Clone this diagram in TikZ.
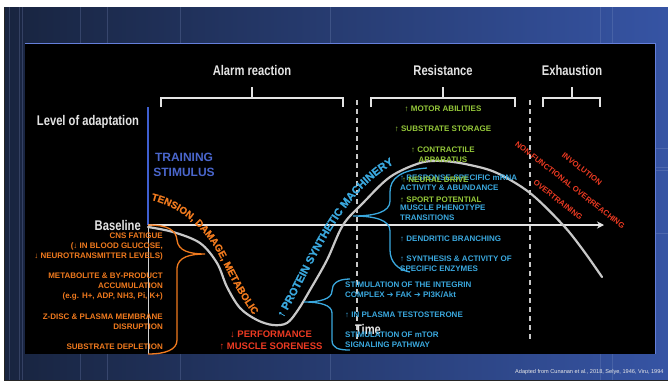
\documentclass[tikz,border=0pt]{standalone}
\usepackage{fontspec}
\setmainfont{Liberation Sans}
\newfontfamily\narrowfont[FakeStretch=0.8]{Liberation Sans}
\newfontfamily\heavyfont[FakeBold=0.8]{Liberation Sans Bold}
\newfontfamily\symfont{DejaVu Sans}
\usetikzlibrary{arrows.meta,decorations.text}

\definecolor{slideL}{HTML}{18243F}
\definecolor{slideR}{HTML}{3654A4}
\definecolor{axisblue}{HTML}{3F5FD0}
\definecolor{stimblue}{HTML}{4A66CC}
\definecolor{orangetxt}{HTML}{F07A1E}
\definecolor{cyantxt}{HTML}{3AA8DE}
\definecolor{greentxt}{HTML}{95C83A}
\definecolor{redtxt}{HTML}{EC3A22}
\definecolor{curvegray}{HTML}{C8C8C8}
\definecolor{labelwhite}{HTML}{E4E4E4}

\newcommand{\smallbold}{\bfseries\fontsize{8}{10}\selectfont}
\newcommand{\tensionfont}{\heavyfont\fontsize{10}{12}\selectfont}
\newcommand{\proteinfont}{\heavyfont\fontsize{11}{13}\selectfont}
\newcommand{\heavyarrow}{{\symfont ➔}}

\tikzset{
  phase/.style={text=labelwhite, font=\narrowfont\bfseries\fontsize{14}{16}\selectfont, inner sep=0pt},
  bracketline/.style={draw=labelwhite, line width=1.2pt},
  dashline/.style={draw=curvegray, line width=1.4pt, dash pattern=on 5pt off 4pt},
  orangebox/.style={text=orangetxt, font=\smallbold, align=right, inner sep=0pt, anchor=north east},
  cyanbox/.style={text=cyantxt, font=\smallbold, align=left, inner sep=0pt, anchor=north west},
  greenbox/.style={text=greentxt, font=\smallbold, inner sep=0pt},
  redtilt/.style={text=redtxt, font=\bfseries\fontsize{7.8}{9}\selectfont, inner sep=0pt, rotate=-38},
}

\begin{document}
\begin{tikzpicture}[x=1pt,y=-1pt]
  \useasboundingbox (0,0) rectangle (668,381);
  % slide backdrop
  \fill[white] (0,0) rectangle (668,381);
  \shade[left color=slideL, right color=slideR] (4,7) rectangle (668,380);
  \foreach \xx in {9,19,22,80,107,180,330,600,612} {
    \draw[slideR!60!white, opacity=0.25, line width=0.6pt] (\xx,7) -- (\xx,380);
  }
  \foreach \yy in {148,167,170,233} {
    \draw[slideR!60!white, opacity=0.3, line width=0.6pt] (655,\yy) -- (668,\yy);
  }
  \draw[black!85, line width=1pt] (4,7) -- (4,380) -- (668,380);
  \fill[black] (25,43) rectangle (655,354);
  \draw[axisblue!80, line width=0.9pt] (25,43) -- (655,43) -- (655,354);

  % phase headings and brackets
  \node[phase] (alarm) at (252,70) {Alarm reaction};
  \node[phase] (resist) at (443,70) {Resistance};
  \node[phase] (exhaust) at (572,70) {Exhaustion};
  \coordinate (alarmtick) at (252,98);
  \coordinate (resisttick) at (443,98);
  \coordinate (exhausttick) at (572,98);
  \draw[bracketline] (161,107) -- (161,98) -- (343,98) -- (343,107);
  \draw[bracketline] (371,107) -- (371,98) -- (515,98) -- (515,107);
  \draw[bracketline] (543,107) -- (543,98) -- (600,98) -- (600,107);
  \draw[bracketline] (alarmtick) -- ++(0,-11);
  \draw[bracketline] (resisttick) -- ++(0,-11);
  \draw[bracketline] (exhausttick) -- ++(0,-11);
  \draw[dashline] (357,100) -- (357,340);
  \draw[dashline] (530,100) -- (530,340);

  % axes
  \coordinate (origin) at (148,225);
  \coordinate (timeend) at (604,225);
  \draw[axisblue, line width=1.5pt] (origin) -- (148,107);
  \draw[curvegray!85, line width=1pt] (origin) -- (148,354);
  \draw[labelwhite, line width=1.8pt, -{Stealth[length=7pt,width=7pt]}] (origin) -- (timeend);
  \node[phase] (level) at (88,122) {Level of adaptation};
  \node[phase, anchor=east] (baseline) at (141,225) {Baseline};
  \node[phase] (time) at (368,329) {Time};
  \node[text=stimblue, font=\bfseries\fontsize{12}{15}\selectfont, align=center, inner sep=0pt] (stim) at (184,165) {TRAINING\\STIMULUS};

  % adaptation curve
  \draw[curvegray, line width=2.2pt, line cap=round] plot[smooth, tension=0.55] coordinates {
    (148,227) (173,232) (200,243) (217,263) (227,287) (240,308) (257,320) (273,325)
    (287,323) (298,310) (310,290) (327,260) (343,225) (363,203) (390,177) (420,163)
    (443,161) (470,165) (497,173) (530,193) (563,225) (583,250) (602,277)};

  % texts along the curve
  \path[decorate, decoration={text along path, text color=orangetxt,
      text={|\tensionfont|TENSION, DAMAGE, METABOLIC}}]
    (151,200) .. controls (181,207) and (206,229) .. (221,259)
    .. controls (233,283) and (245,307) .. (265,329);
  \path[decorate, decoration={text along path, text color=cyantxt,
      text={|\proteinfont|↑ PROTEIN SYNTHETIC MACHINERY}}]
    (283,318) .. controls (300,290) and (315,255) .. (335,224)
    .. controls (352,197) and (375,170) .. (412,155);

  % alarm phase: orange brace and causes
  \draw[orangetxt, line width=1.3pt] (origin) .. controls (168,225) and (176,230) .. (177,240)
    .. controls (178,251) and (190,254) .. (205,254)
    .. controls (190,254) and (178,257) .. (177,268) -- (177,340)
    .. controls (177,350) and (165,354) .. (148,354);
  \node[orangebox] (cns) at (163,233) {CNS FATIGUE\\(↓ IN BLOOD GLUCOSE,\\↓ NEUROTRANSMITTER LEVELS)};
  \node[orangebox] (metab) at (163,273) {METABOLITE \& BY-PRODUCT\\ACCUMULATION\\(e.g. H+, ADP, NH3, Pi, K+)};
  \node[orangebox] (zdisc) at (163,314) {Z-DISC \& PLASMA MEMBRANE\\DISRUPTION};
  \node[orangebox] (substr) at (163,344) {SUBSTRATE DEPLETION};
  \node[text=redtxt, font=\bfseries\fontsize{9.5}{12}\selectfont, align=center, inner sep=0pt, anchor=north] (perf) at (271,331) {↓ PERFORMANCE\\↑ MUSCLE SORENESS};

  % protein synthesis: lower cyan brace
  \draw[cyantxt, line width=1.3pt] (350,279) .. controls (337,279) and (332,284) .. (332,291)
    .. controls (332,299) and (320,302) .. (304,302)
    .. controls (320,302) and (332,305) .. (332,313) -- (332,340)
    .. controls (332,348) and (338,350) .. (350,350);
  \node[cyanbox] (integrin) at (345,282) {STIMULATION OF THE INTEGRIN\\COMPLEX \heavyarrow{} FAK \heavyarrow{} PI3K/Akt};
  \node[cyanbox] (testo) at (345,312) {↑ IN PLASMA TESTOSTERONE};
  \node[cyanbox] (mtor) at (345,332) {STIMULATION OF mTOR\\SIGNALING PATHWAY};

  % resistance phase: upper cyan brace
  \draw[cyantxt, line width=1.3pt] (427,168) .. controls (401,170) and (390,178) .. (390,192) -- (390,201)
    .. controls (390,212) and (375,216) .. (353,216)
    .. controls (375,216) and (390,220) .. (390,231) -- (390,250)
    .. controls (390,262) and (398,270) .. (410,272);
  \node[cyanbox] (mrna) at (400,175) {↑ RESPONSE-SPECIFIC mRNA\\ACTIVITY \& ABUNDANCE};
  \node[cyanbox] (pheno) at (400,205) {MUSCLE PHENOTYPE\\TRANSITIONS};
  \node[cyanbox] (dendr) at (400,236) {↑ DENDRITIC BRANCHING};
  \node[cyanbox] (enzym) at (400,256) {↑ SYNTHESIS \& ACTIVITY OF\\SPECIFIC ENZYMES};

  % resistance gains
  \node[greenbox] (motor) at (443,109) {↑ MOTOR ABILITIES};
  \node[greenbox] (storage) at (443,129) {↑ SUBSTRATE STORAGE};
  \node[greenbox, align=center, anchor=north] (contr) at (443,147) {↑ CONTRACTILE\\APPARATUS};
  \node[greenbox, anchor=west] (neural) at (402,180) {↑ NEURAL DRIVE};
  \node[greenbox, anchor=west] (sport) at (400,200) {↑ SPORT POTENTIAL};

  % exhaustion outcomes
  \node[redtilt] (nfor) at (570,185) {NON-FUNCTIONAL OVERREACHING};
  \node[redtilt] (invol) at (582,169) {INVOLUTION};
  \node[redtilt] (overtr) at (558,200) {OVERTRAINING};

  % source line
  \node[text=labelwhite!80, font=\fontsize{5.6}{7}\selectfont, anchor=base west, inner sep=0pt] (source) at (515,373) {Adapted from Cunanan et al., 2018, Selye, 1946, Viru, 1994};
\end{tikzpicture}
\end{document}
